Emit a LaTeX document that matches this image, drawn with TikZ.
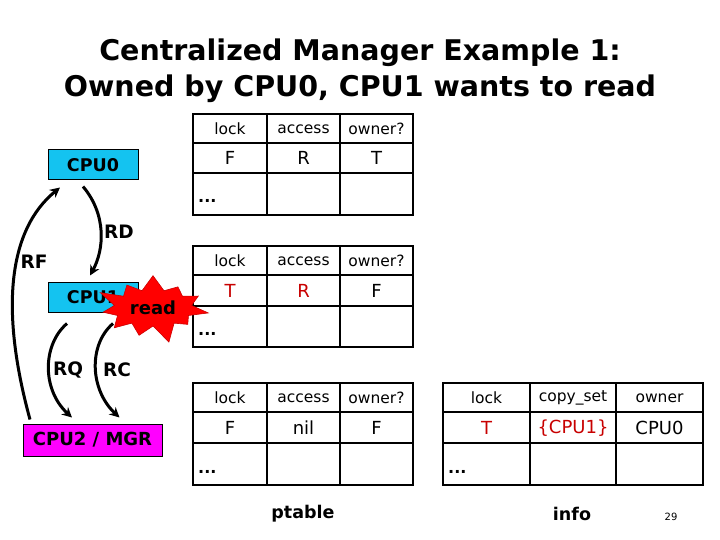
\documentclass[tikz,border=0pt]{standalone}
\usepackage{fontspec}
\setmainfont{DejaVu Sans}
\usetikzlibrary{arrows.meta,shapes.symbols}
\definecolor{cpucyan}{RGB}{20,195,240}
\definecolor{mgrmag}{RGB}{255,0,255}
\definecolor{valred}{RGB}{200,0,0}
\tikzset{
  cpubox/.style={draw=black,line width=1pt,minimum width=90pt,minimum height=30pt,inner sep=0pt,font=\fontsize{17.5}{17.5}\selectfont\bfseries},
  tbl/.style={line width=2.2pt},
  hdr/.style={font=\fontsize{15.5}{15.5}\selectfont,inner sep=0pt},
  val/.style={font=\fontsize{18}{18}\selectfont,inner sep=0pt},
  dots/.style={font=\fontsize{16}{16}\selectfont\bfseries,inner sep=0pt,anchor=west},
  msg/.style={font=\fontsize{18.5}{18.5}\selectfont\bfseries,inner sep=0pt},
  arr/.style={line width=3pt,-{Stealth[length=10pt,width=10pt]}},
  captxt/.style={font=\fontsize{17.5}{17.5}\selectfont\bfseries,inner sep=0pt},
}
\begin{document}
\begin{tikzpicture}[x=1pt,y=-1pt]
\useasboundingbox[fill=white] (0,0) rectangle (720,540);
% title
\node[font=\fontsize{28.5}{28.5}\selectfont\bfseries,align=center,inner sep=0pt] (title) at (360,71)
  {Centralized Manager Example 1:\\[8pt]Owned by CPU0, CPU1 wants to read};
% CPU boxes
\node[cpubox,fill=cpucyan] (cpu0) at (93,165) {CPU0};
\node[cpubox,fill=cpucyan] (cpu1) at (93,297) {CPU1};
\node[cpubox,fill=mgrmag,minimum width=139pt,minimum height=32pt,font=\fontsize{18}{18}\selectfont\bfseries] (cpu2) at (92.5,440) {CPU2 / MGR};
% table 1
\draw[tbl] (193,114) rectangle (413,215);
\draw[tbl] (267,114) -- (267,215) (340,114) -- (340,215) (193,143) -- (413,143) (193,173) -- (413,173);
\node[hdr] (a1) at (230,129) {lock};
\node[hdr] (a2) at (303.5,129) {access};
\node[hdr] (a3) at (376.5,129) {owner?};
\node[val] (a4) at (230,158) {F};
\node[val] (a5) at (303.5,158) {R};
\node[val] (a6) at (376.5,158) {T};
\node[dots] (a7) at (198,201) {...};
% table 2
\draw[tbl] (193,246) rectangle (413,347);
\draw[tbl] (267,246) -- (267,347) (340,246) -- (340,347) (193,275) -- (413,275) (193,306) -- (413,306);
\node[hdr] (b1) at (230,261) {lock};
\node[hdr] (b2) at (303.5,261) {access};
\node[hdr] (b3) at (376.5,261) {owner?};
\node[val,text=valred] (b4) at (230,291) {T};
\node[val,text=valred] (b5) at (303.5,291) {R};
\node[val] (b6) at (376.5,291) {F};
\node[dots] (b7) at (198,334) {...};
% table 3
\draw[tbl] (193,383) rectangle (413,485);
\draw[tbl] (267,383) -- (267,485) (340,383) -- (340,485) (193,412) -- (413,412) (193,443) -- (413,443);
\node[hdr] (c1) at (230,398) {lock};
\node[hdr] (c2) at (303.5,398) {access};
\node[hdr] (c3) at (376.5,398) {owner?};
\node[val] (c4) at (230,428) {F};
\node[val] (c5) at (303.5,428) {nil};
\node[val] (c6) at (376.5,428) {F};
\node[dots] (c7) at (198,472) {...};
% table 4
\draw[tbl] (443,383) rectangle (703,485);
\draw[tbl] (530,383) -- (530,485) (616,383) -- (616,485) (443,412) -- (703,412) (443,443) -- (703,443);
\node[hdr] (d1) at (486.5,398) {lock};
\node[hdr] (d2) at (573,398) {copy\_set};
\node[hdr] (d3) at (659.5,398) {owner};
\node[val,text=valred] (d4) at (486.5,428) {T};
\node[val,text=valred] (d5) at (573,428) {\{CPU1\}};
\node[val] (d6) at (659.5,428) {CPU0};
\node[dots] (d7) at (448,472) {...};
% captions
\node[captxt] (ptable) at (303,514) {ptable};
\node[captxt] (info) at (572,514) {info};
\node[font=\fontsize{10}{10}\selectfont,inner sep=0pt] (pg) at (671,517) {29};
% arrows
\draw[arr] ([xshift=-10pt,yshift=-6pt]cpu0.south) .. controls (107,215) and (104,250) .. ([xshift=-3pt,yshift=6pt]cpu1.north);
\node[msg] (rd) at (119,232) {RD};
\draw[arr] ([xshift=-62.5pt,yshift=4pt]cpu2.north) .. controls (0,310) and (8,230) .. ([xshift=-33pt,yshift=-7pt]cpu0.south);
\node[msg] (rf) at (34,262) {RF};
\draw[arr] ([xshift=-26pt,yshift=-11pt]cpu1.south) .. controls (42,345) and (42,390) .. ([xshift=-20.5pt,yshift=6pt]cpu2.north);
\node[msg] (rq) at (68,370) {RQ};
\draw[arr] ([xshift=20pt,yshift=-11pt]cpu1.south) .. controls (88,345) and (90,390) .. ([xshift=27pt,yshift=6pt]cpu2.north);
\node[msg] (rc) at (117,370) {RC};
% read starburst
\node[starburst,starburst points=11,starburst point height=20pt,fill=red,draw=red!80!black,line width=0.6pt,
      minimum width=118pt,minimum height=76pt,inner sep=0pt,font=\fontsize{18}{18}\selectfont\bfseries] (read) at (153,308) {read};
\end{tikzpicture}
\end{document}
